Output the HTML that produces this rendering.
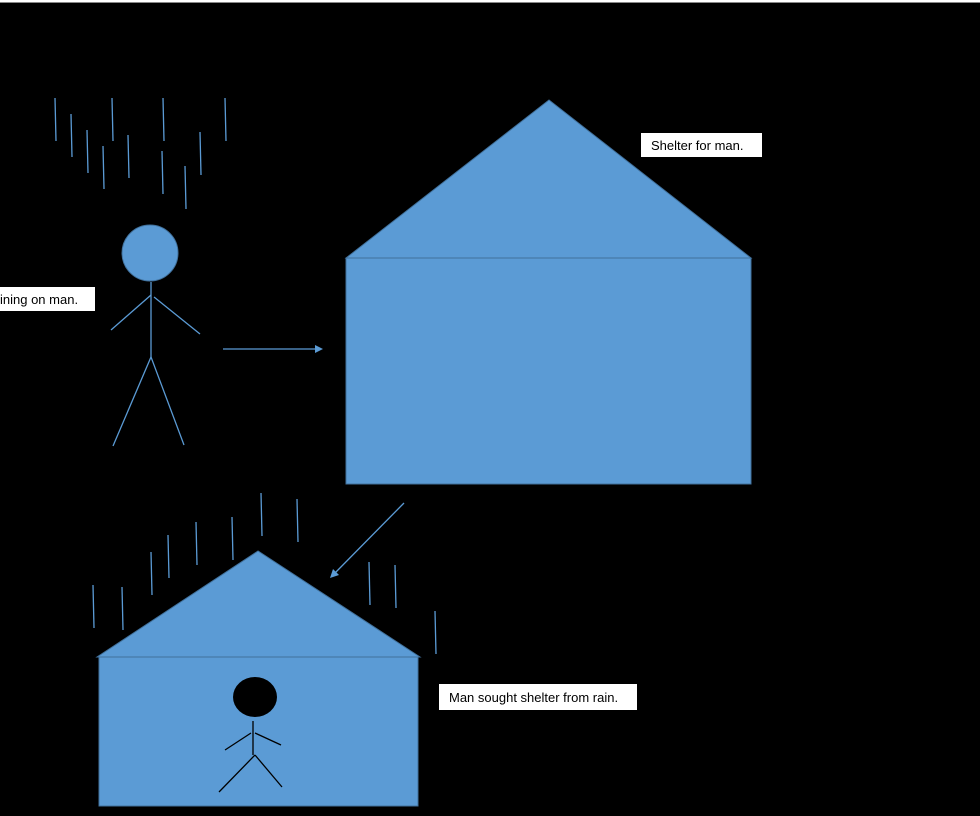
<!DOCTYPE html>
<html><head><meta charset="utf-8"><style>
html,body{margin:0;padding:0;background:#000;width:980px;height:816px;overflow:hidden}
svg{display:block}
text{font-family:"Liberation Sans",sans-serif;font-size:13px;fill:#000}
</style></head><body>
<svg width="980" height="816" viewBox="0 0 980 816" xmlns="http://www.w3.org/2000/svg">
<rect x="0" y="0" width="980" height="816" fill="#000"/>
<rect x="0" y="0" width="980" height="2" fill="#fff"/>
<rect x="0" y="2" width="980" height="1" fill="#888"/>
<g stroke="#5b9bd5" stroke-width="1.3" fill="none">
<line x1="55" y1="98" x2="56" y2="141"/>
<line x1="71" y1="114" x2="72" y2="157"/>
<line x1="87" y1="130" x2="88" y2="173"/>
<line x1="103" y1="146" x2="104" y2="189"/>
<line x1="112" y1="98" x2="113" y2="141"/>
<line x1="128" y1="135" x2="129" y2="178"/>
<line x1="163" y1="98" x2="164" y2="141"/>
<line x1="162" y1="151" x2="163" y2="194"/>
<line x1="185" y1="166" x2="186" y2="209"/>
<line x1="200" y1="132" x2="201" y2="175"/>
<line x1="225" y1="98" x2="226" y2="141"/>
<line x1="151" y1="282" x2="151" y2="357"/>
<line x1="151" y1="295" x2="111" y2="330"/>
<line x1="154" y1="297" x2="200" y2="334"/>
<line x1="151" y1="357" x2="113" y2="446"/>
<line x1="151" y1="357" x2="184" y2="445"/>
<line x1="223" y1="349" x2="316" y2="349"/>
<line x1="93" y1="585" x2="94" y2="628"/>
<line x1="122" y1="587" x2="123" y2="630"/>
<line x1="151" y1="552" x2="152" y2="595"/>
<line x1="168" y1="535" x2="169" y2="578"/>
<line x1="196" y1="522" x2="197" y2="565"/>
<line x1="232" y1="517" x2="233" y2="560"/>
<line x1="261" y1="493" x2="262" y2="536"/>
<line x1="297" y1="499" x2="298" y2="542"/>
<line x1="369" y1="562" x2="370" y2="605"/>
<line x1="395" y1="565" x2="396" y2="608"/>
<line x1="435" y1="611" x2="436" y2="654"/>
<line x1="404" y1="503" x2="335" y2="573"/>
</g>
<polygon points="323,349 315,345 315,353" fill="#5b9bd5"/>
<polygon points="330,578 333,569 339,575" fill="#5b9bd5"/>
<circle cx="150" cy="253" r="28" fill="#5b9bd5" stroke="#41719c" stroke-width="1"/>
<polygon points="549,100 346,258 751,258" fill="#5b9bd5" stroke="#41719c" stroke-width="1"/>
<rect x="346" y="258" width="405" height="226" fill="#5b9bd5" stroke="#41719c" stroke-width="1"/>
<polygon points="258,551 97,657 420,657" fill="#5b9bd5" stroke="#41719c" stroke-width="1"/>
<rect x="99" y="657" width="319" height="149" fill="#5b9bd5" stroke="#41719c" stroke-width="1"/>
<ellipse cx="255" cy="697" rx="22" ry="20" fill="#000"/>
<g stroke="#000" stroke-width="1.3">
<line x1="253" y1="721" x2="253" y2="755"/>
<line x1="251" y1="733" x2="225" y2="750"/>
<line x1="255" y1="733" x2="281" y2="745"/>
<line x1="255" y1="755" x2="219" y2="792"/>
<line x1="255" y1="755" x2="282" y2="787"/>
</g>
<rect x="0" y="287" width="95" height="24" fill="#fff"/>
<text x="0" y="304">ining on man.</text>
<rect x="641" y="133" width="121" height="24" fill="#fff"/>
<text x="651" y="150">Shelter for man.</text>
<rect x="439" y="684" width="198" height="26" fill="#fff"/>
<text x="449" y="702">Man sought shelter from rain.</text>
</svg>
</body></html>
